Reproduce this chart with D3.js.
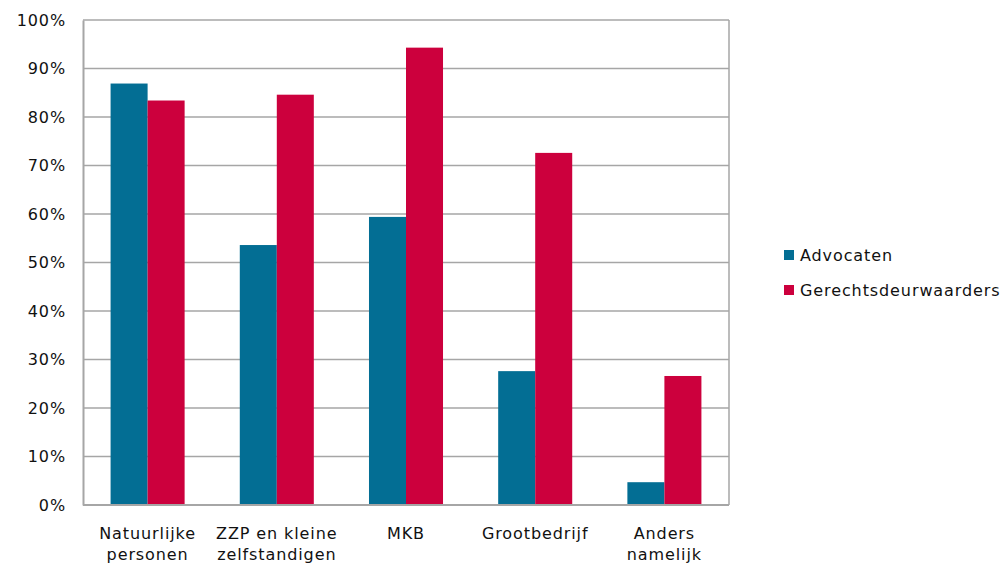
<!DOCTYPE html>
<html>
<head>
<meta charset="utf-8">
<script src="https://cdn.jsdelivr.net/npm/d3@7"></script>
<style>
  body { margin: 0; background: #fff; }
  text { font-family: "DejaVu Sans", Verdana, sans-serif; fill: #111; letter-spacing: 0.9px; }
</style>
</head>
<body>
<svg id="chart" width="1007" height="563"></svg>
<script>
// data
var categories = [["Natuurlijke", "personen"], ["ZZP en kleine", "zelfstandigen"], ["MKB"], ["Grootbedrijf"], ["Anders", "namelijk"]]
var seriesNames = ["Advocaten", "Gerechtsdeurwaarders"]
var advocaten = [86.9, 53.6, 59.4, 27.6, 4.7]
var gerechtsdeurwaarders = [83.4, 84.6, 94.3, 72.6, 26.6]
var yTicks = [0, 10, 20, 30, 40, 50, 60, 70, 80, 90, 100]
var colors = ["#036e94", "#cc003d"]

var svg = d3.select("#chart")
var plotLeft = 83, plotRight = 729, plotTop = 20, plotBottom = 505

var x0 = d3.scaleBand()
   .domain(d3.range(categories.length))
   .range([plotLeft, plotRight])
   .paddingInner(0.427)
   .paddingOuter(0.2135)
var x1 = d3.scaleBand()
   .domain(seriesNames)
   .range([0, x0.bandwidth()])
var yScale = d3.scaleLinear().domain([0, 100]).range([plotBottom, plotTop])

// gridlines
svg.append("g")
   .selectAll("line")
   .data(yTicks)
   .join("line")
   .attr("x1", plotLeft)
   .attr("x2", plotRight)
   .attr("y1", d => yScale(d))
   .attr("y2", d => yScale(d))
   .style("stroke", "#a6a6a6")
   .style("stroke-width", 1.5)

// right border
svg.append("line")
   .attr("x1", plotRight).attr("x2", plotRight)
   .attr("y1", plotTop).attr("y2", plotBottom)
   .style("stroke", "#a6a6a6")
   .style("stroke-width", 1.5)

var rows = categories.map((c, i) => ({ i: i, vals: [advocaten[i], gerechtsdeurwaarders[i]] }))

svg.append("g")
   .selectAll("g")
   .data(rows)
   .join("g")
   .attr("transform", d => "translate(" + x0(d.i) + ",0)")
   .selectAll("rect")
   .data(d => d.vals.map((v, k) => ({ name: seriesNames[k], v: v, k: k })))
   .join("rect")
   .attr("x", d => x1(d.name))
   .attr("width", x1.bandwidth())
   .attr("y", d => yScale(d.v))
   .attr("height", d => yScale(0) - yScale(d.v))
   .attr("fill", d => colors[d.k])

// y axis
var yAxis = d3.axisLeft(yScale)
   .tickValues(yTicks)
   .tickSize(0)
   .tickPadding(17)
   .tickFormat(d => d + "%")
svg.append("g")
   .attr("transform", "translate(" + plotLeft + ",0)")
   .call(yAxis)
   .call(g => g.select(".domain").style("stroke", "#a6a6a6").style("stroke-width", 2))
   .selectAll("text")
   .style("font-size", "16px")
   .style("font-family", "DejaVu Sans, Verdana, sans-serif")
   .attr("fill", "#111")

// x axis
var xAxis = d3.axisBottom(x0).tickSize(0).tickFormat("")
svg.append("g")
   .attr("transform", "translate(0," + plotBottom + ")")
   .call(xAxis)
   .call(g => g.select(".domain").attr("d", "M" + plotLeft + ",0H" + plotRight).style("stroke", "#a6a6a6").style("stroke-width", 2))

svg.append("g")
   .selectAll("text")
   .data(categories)
   .join("text")
   .attr("x", (d, i) => x0(i) + x0.bandwidth() / 2)
   .attr("y", 539)
   .attr("text-anchor", "middle")
   .style("font-size", "16px")
   .selectAll("tspan")
   .data(d => d)
   .join("tspan")
   .attr("x", function() { return this.parentNode.getAttribute("x") })
   .attr("dy", (d, i) => i == 0 ? 0 : 21)
   .text(d => d)

// legend
var legend = svg.append("g")
   .selectAll("g")
   .data(seriesNames)
   .join("g")
   .attr("transform", (d, i) => "translate(784," + (255 + i * 35) + ")")
legend.append("rect")
   .attr("x", 0).attr("y", -5)
   .attr("width", 10).attr("height", 10)
   .attr("fill", (d, i) => colors[i])
legend.append("text")
   .attr("x", 16)
   .attr("y", 6)
   .style("font-size", "16px")
   .text(d => d)
</script>
</body>
</html>
